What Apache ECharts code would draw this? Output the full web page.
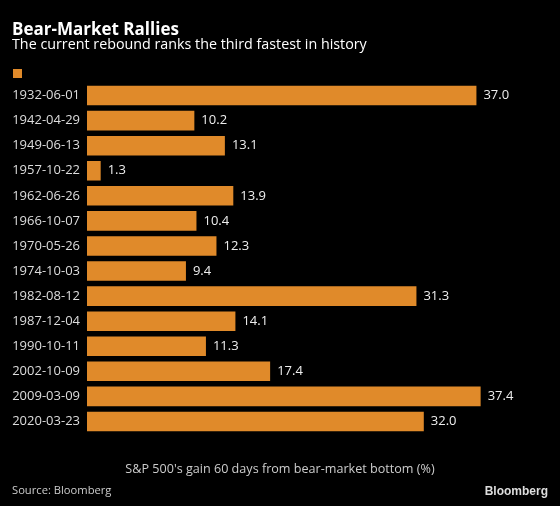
<!DOCTYPE html>
<html><head><meta charset="utf-8">
<style>html,body{margin:0;padding:0;background:#000;}#c{width:560px;height:506px;}</style>
<script src="https://cdn.jsdelivr.net/npm/echarts@6/dist/echarts.min.js"></script>
</head><body><div id="c"></div>
<script>
const categories = ['1932-06-01','1942-04-29','1949-06-13','1957-10-22','1962-06-26','1966-10-07','1970-05-26','1974-10-03','1982-08-12','1987-12-04','1990-10-11','2002-10-09','2009-03-09','2020-03-23'];
const values = [37.0,10.2,13.1,1.3,13.9,10.4,12.3,9.4,31.3,14.1,11.3,17.4,37.4,32.0];
const font = '"Open Sans", sans-serif';
const chart = echarts.init(document.getElementById('c'), null, {renderer:'canvas'});
chart.setOption({
  backgroundColor:'#000',
  animation:false,
  title:[
    {text:'Bear-Market Rallies', left:12, top:22, padding:0, textStyle:{color:'#fff', fontSize:17, fontWeight:'bold', fontFamily:font}},
    {text:'The current rebound ranks the third fastest in history', left:12, top:38, padding:0, textStyle:{color:'#fff', fontSize:14.3, fontWeight:'normal', fontFamily:font}},
    {text:'S&P 500\'s gain 60 days from bear-market bottom (%)', left:280, textAlign:'center', top:463, padding:0, textStyle:{color:'#ccc', fontSize:12.6, fontWeight:'normal', fontFamily:font}},
    {text:'Source: Bloomberg', left:12, top:485, padding:0, textStyle:{color:'#ccc', fontSize:11.2, fontWeight:'normal', fontFamily:font}},
    {text:'Bloomberg', right:12, top:486, padding:0, textStyle:{color:'#ddd', fontSize:12, fontWeight:'bold', fontFamily:'"Liberation Sans", Arial, sans-serif'}}
  ],
  legend:{show:true, left:13, top:69, padding:0, itemWidth:9, itemHeight:9, icon:'rect', data:[{name:'gain'}], formatter:()=>'', textStyle:{fontSize:1}},
  grid:{left:87, top:83, width:421, height:351, containLabel:false},
  xAxis:{type:'value', min:0, max:40, show:false},
  yAxis:{type:'category', data:categories, inverse:true,
    axisLine:{show:false}, axisTick:{show:false},
    axisLabel:{color:'#ddd', fontSize:13, fontFamily:font, margin:7}},
  series:[{name:'gain', type:'bar', data:values, barCategoryGap:'22%',
    itemStyle:{color:'#E08A2A'},
    label:{show:true, position:'right', distance:7, color:'#eee', fontSize:13, fontFamily:font, formatter:p=>p.value.toFixed(1)}}]
});
</script></body></html>
